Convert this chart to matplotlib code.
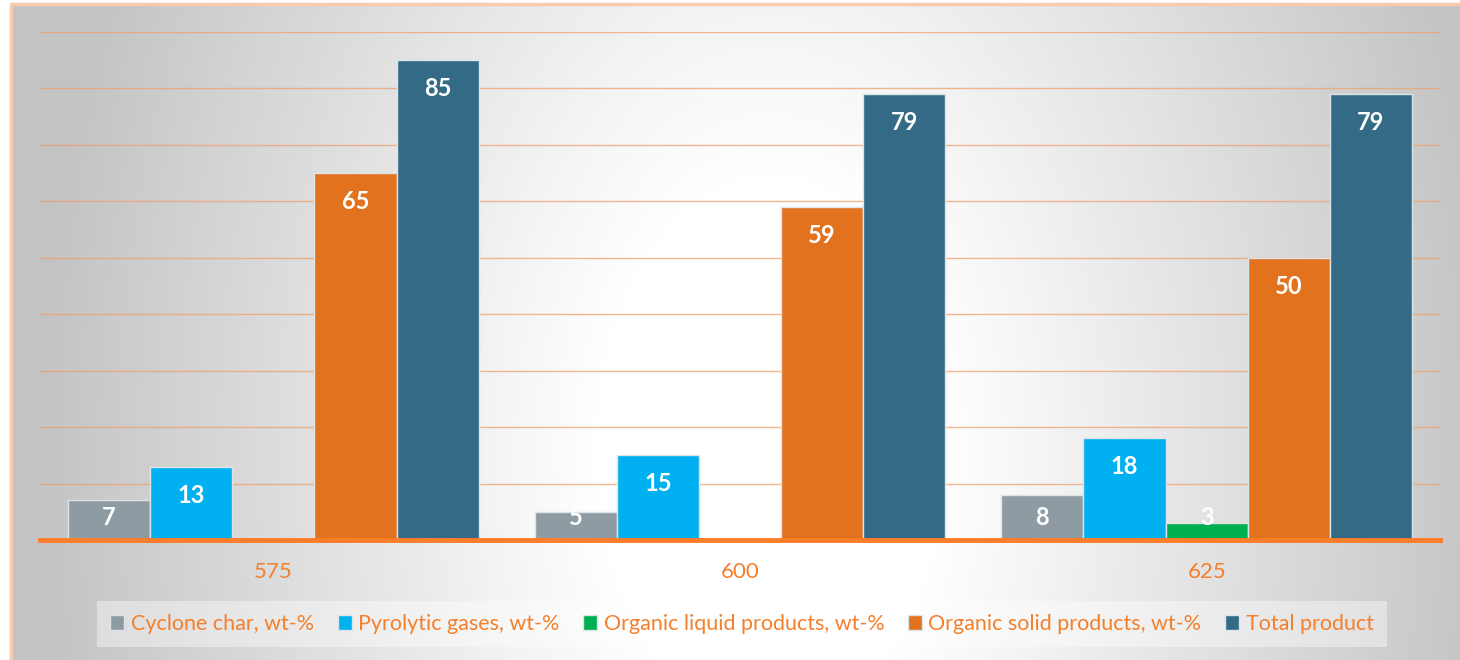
import matplotlib.pyplot as plt
import numpy as np

# data
temps = ["575", "600", "625"]
series = [
    "Cyclone char, wt-%",
    "Pyrolytic gases, wt-%",
    "Organic liquid products, wt-%",
    "Organic solid products, wt-%",
    "Total product",
]
cyclone_char = [7, 5, 8]
pyro_gases = [13, 15, 18]
org_liquid = [0, 0, 3]
org_solid = [65, 59, 50]
total = [85, 79, 79]
values = [cyclone_char, pyro_gases, org_liquid, org_solid, total]
colors = ["#8f9ba3", "#00b0f0", "#00b050", "#e3721f", "#336b87"]
orange_txt = "#f47f2c"

plt.rcParams["font.family"] = ["Lato", "DejaVu Sans"]

W, H = 1460, 660
fig = plt.figure(figsize=(W / 100, H / 100), dpi=100)

# radial grey -> white background
bg = fig.add_axes([0, 0, 1, 1], zorder=-10)
yy, xx = np.mgrid[0:H, 0:W]
r = np.sqrt(((xx - 770) / 700.0) ** 2 + ((yy - 450) / 1100.0) ** 2)
shade = (255 - 60 * np.clip((r - 0.25) / 0.8, 0, 1)) / 255
img = np.dstack([shade] * 3)
img[:, :10] = 1
img[:4, :] = 1
bg.imshow(img, extent=[0, W, H, 0], aspect="auto")
bg.plot([11, 11, W], [H, 4, 4], color="#f8cbad", lw=2.5)
bg.set_xlim(0, W)
bg.set_ylim(H, 0)
bg.axis("off")

ax = fig.add_axes([40 / W, 1 - 540 / H, 1400 / W, 508 / H])
ax.set_facecolor("none")
x = np.arange(len(temps))
width = 0.176
handles = []
for i, (name, vals, c) in enumerate(zip(series, values, colors)):
    pos = x + (i - 2) * width
    b = ax.bar(pos, vals, width, color=c, edgecolor="#dde4e8", linewidth=1,
               label=name, zorder=3)
    handles.append(b)
    for xp, v in zip(pos, vals):
        if v <= 0:
            continue
        ax.text(xp, max(v - 4.7, 4.3), str(v), ha="center", va="center_baseline",
                color="white", fontsize=17, fontweight="bold", zorder=5)

ax.set_xlim(-0.5, 2.5)
ax.set_ylim(0, 90)
ax.set_yticks(range(0, 91, 10))
ax.yaxis.grid(True, color="#eea16e", lw=1, alpha=0.75, zorder=0)
ax.set_axisbelow(True)
ax.axhline(0, color="#fb7d2a", lw=3.5, zorder=4, clip_on=False)
ax.tick_params(axis="y", length=0, labelleft=False)
ax.set_xticks(x, temps)
ax.tick_params(axis="x", length=0, pad=16, labelsize=16, labelcolor=orange_txt)
for s in ax.spines.values():
    s.set_visible(False)

fig.legend(handles=handles, labels=series, loc="center",
           bbox_to_anchor=(742 / W, 1 - 624 / H), ncol=5, fontsize=15.5,
           labelcolor=orange_txt, handlelength=0.65, handleheight=0.65,
           handletextpad=0.3, columnspacing=1.1, frameon=True,
           facecolor="white", framealpha=0.4, edgecolor="none",
           fancybox=False, borderpad=0.6)

fig.savefig("out.png", dpi=100)
